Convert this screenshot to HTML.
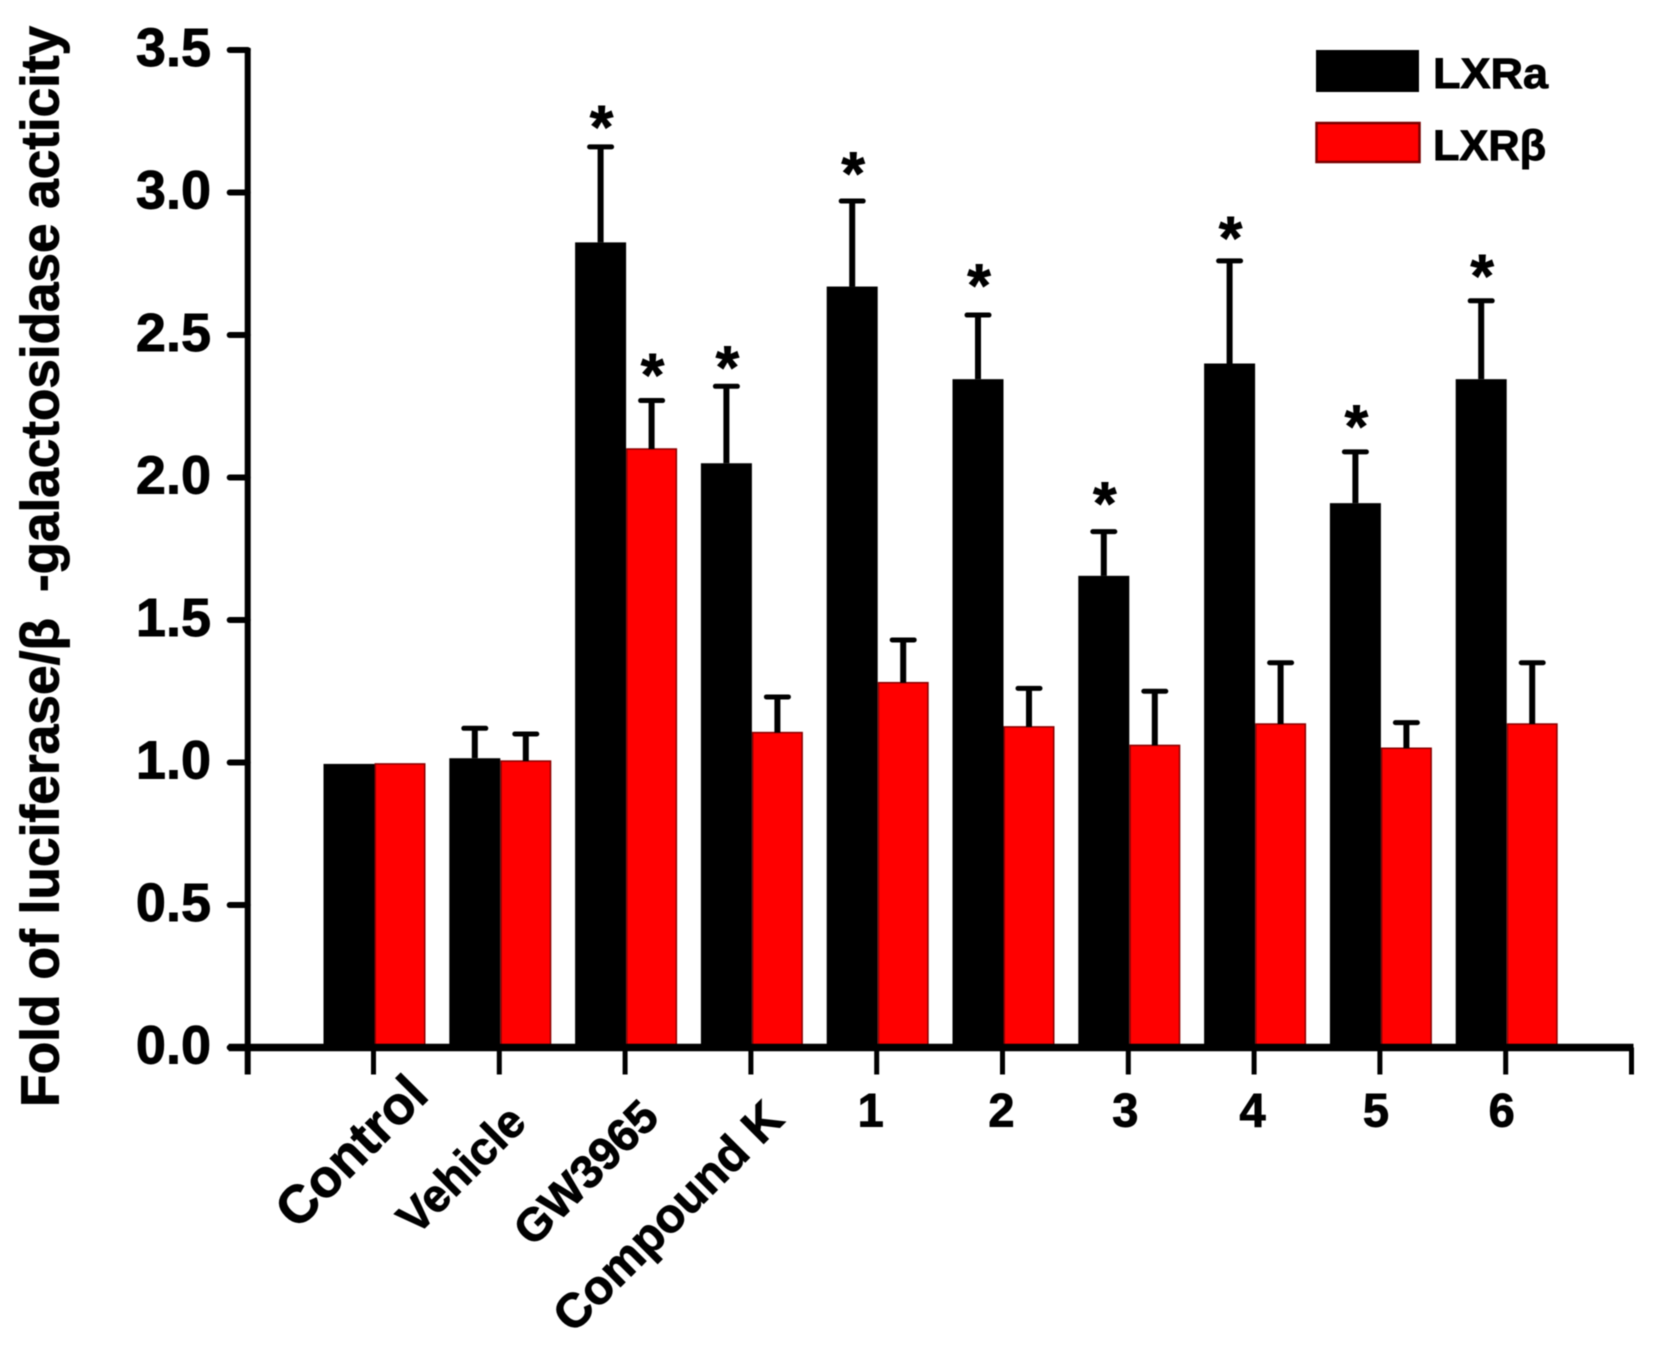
<!DOCTYPE html>
<html lang="en">
<head>
<meta charset="utf-8">
<title>LXR luciferase activity chart</title>
<style>
html,body{margin:0;padding:0;background:#fff;overflow:hidden;}
svg{display:block;font-family:"Liberation Sans",Arial,sans-serif;font-weight:bold;filter:blur(0.5px);}
text{stroke:#000;stroke-width:0.9px;white-space:pre;}
</style>
</head>
<body>
<svg id="chart" width="1653" height="1348" viewBox="0 0 1653 1348" xmlns="http://www.w3.org/2000/svg">
<rect width="1653" height="1348" fill="#fff"/>
<g id="bars"></g>
<g id="errors"></g>
<g id="stars"></g>
<g id="axes"></g>
<g>
<text transform="translate(58.5,1107) rotate(-90)" font-size="53.5" textLength="489" lengthAdjust="spacingAndGlyphs">Fold of luciferase/β</text>
<text transform="translate(58.5,592) rotate(-90)" font-size="53.5" textLength="566" lengthAdjust="spacingAndGlyphs">-galactosidase acticity</text>
</g>
<g>
<rect x="1316" y="50" width="103" height="42" fill="#000"/>
<text x="1433" y="88" font-size="43" textLength="115" lengthAdjust="spacingAndGlyphs">LXRa</text>
<rect x="1316.5" y="123" width="103" height="39" fill="#ff0000" stroke="#7a0000" stroke-width="2.5"/>
<text x="1433" y="160" font-size="43" textLength="113" lengthAdjust="spacingAndGlyphs">LXRβ</text>
</g>
</svg>
<script>
const categories = ["Control","Vehicle","GW3965","Compound K","1","2","3","4","5","6"];
const lxraValues = [0.995,1.015,2.825,2.05,2.67,2.345,1.655,2.40,1.91,2.345];
const lxrbValues = [0.995,1.005,2.10,1.105,1.28,1.125,1.06,1.135,1.05,1.135];
const lxraErrorTops = [0.995,1.12,3.16,2.32,2.97,2.57,1.81,2.76,2.09,2.62];
const lxrbErrorTops = [0.995,1.10,2.27,1.23,1.43,1.26,1.25,1.35,1.14,1.35];
const lxraStarLevels = [null,null,3.256,2.412,3.093,2.70,1.935,2.867,2.205,2.734];
const lxrbStarLevels = [null,null,2.386,null,null,null,null,null,null,null];
const yTickLabels = ["0.0","0.5","1.0","1.5","2.0","2.5","3.0","3.5"];

const NS = "http://www.w3.org/2000/svg";
const X0 = 247.7, STEP = 125.8, Y0 = 1047.5, PER_UNIT = 285;
function xScale(i){ return X0 + STEP * (i + 1); }
function yScale(v){ return Y0 - v * PER_UNIT; }
function mk(tag, parent, attrs, txt){
  const el = document.createElementNS(NS, tag);
  for (const k in attrs) el.setAttribute(k, attrs[k]);
  if (txt !== undefined) el.textContent = txt;
  parent.appendChild(el);
  return el;
}
const barsG = document.getElementById("bars");
const errG = document.getElementById("errors");
const starG = document.getElementById("stars");
const axG = document.getElementById("axes");
const BW = 51;

function drawError(cx, top, base){
  if (top <= base + 0.001) return;
  const stem = mk("line", errG, {x1:cx,x2:cx,y1:yScale(base),y2:yScale(top),stroke:"#000","stroke-width":6});
  
  
  const cap = mk("line", errG, {x1:cx-11,x2:cx+11,y1:yScale(top),y2:yScale(top),stroke:"#000","stroke-width":5,"stroke-linecap":"round"});
  
  
}
function drawStar(cx, level){
  const s = mk("text", starG, {x:cx+1,y:yScale(level)+28,"font-size":60,"text-anchor":"middle"}, "*");
  
  
}
categories.forEach(function(name, i){
  const c = xScale(i) + 1;
  const a = mk("rect", barsG, {x:c-BW,y:yScale(lxraValues[i]),width:BW,height:Y0-yScale(lxraValues[i]),fill:"#000"});
  
  
  const b = mk("rect", barsG, {x:c+0.75,y:yScale(lxrbValues[i]),width:BW-1.5,height:Y0-yScale(lxrbValues[i]),fill:"#ff0000",stroke:"#8a0000","stroke-width":1.5});
  
  
  drawError(c-BW/2, lxraErrorTops[i], lxraValues[i]);
  drawError(c+BW/2, lxrbErrorTops[i], lxrbValues[i]);
  if (lxraStarLevels[i] !== null) drawStar(c-BW/2, lxraStarLevels[i]);
  if (lxrbStarLevels[i] !== null) drawStar(c+BW/2, lxrbStarLevels[i]);
});

const yLine = mk("line", axG, {x1:X0,x2:X0,y1:yScale(3.5)-2,y2:Y0+27,stroke:"#000","stroke-width":6});


const xLine = mk("line", axG, {x1:X0-19,x2:xScale(10)+2,y1:Y0,y2:Y0,stroke:"#000","stroke-width":7.5});



yTickLabels.forEach(function(t){
  const v = parseFloat(t);
  const tk = mk("line", axG, {x1:X0-18,x2:X0,y1:yScale(v),y2:yScale(v),stroke:"#000","stroke-width":6,"stroke-linecap":"round"});
  
  
  const lb = mk("text", axG, {x:211,y:yScale(v)+16,"font-size":54,"text-anchor":"end"}, t);
  
  
});
for (let i = 0; i <= categories.length; i++){
  const tk = mk("line", axG, {x1:xScale(i),x2:xScale(i),y1:Y0,y2:Y0+27,stroke:"#000","stroke-width":5});
  
  
}
const rotatedOffsetX = [57,29,36,35];
const rotatedOffsetY = [50,77,72,74];
const rotatedSize = [53,46,46,48];
const numberOffsetX = [-6,-1,-3,-1.5,-4,-4];
categories.forEach(function(name, i){
  let lb;
  if (i < 4) {
    const x = xScale(i) + rotatedOffsetX[i];
    const y = Y0 + rotatedOffsetY[i];
    lb = mk("text", axG, {transform:"translate("+x+","+y+") rotate(-45)","font-size":rotatedSize[i],"text-anchor":"end"}, name);
  } else {
    lb = mk("text", axG, {x:xScale(i)+numberOffsetX[i-4],y:Y0+79,"font-size":47,"text-anchor":"middle"}, name);
  }
  
  
});
</script>
</body>
</html>
